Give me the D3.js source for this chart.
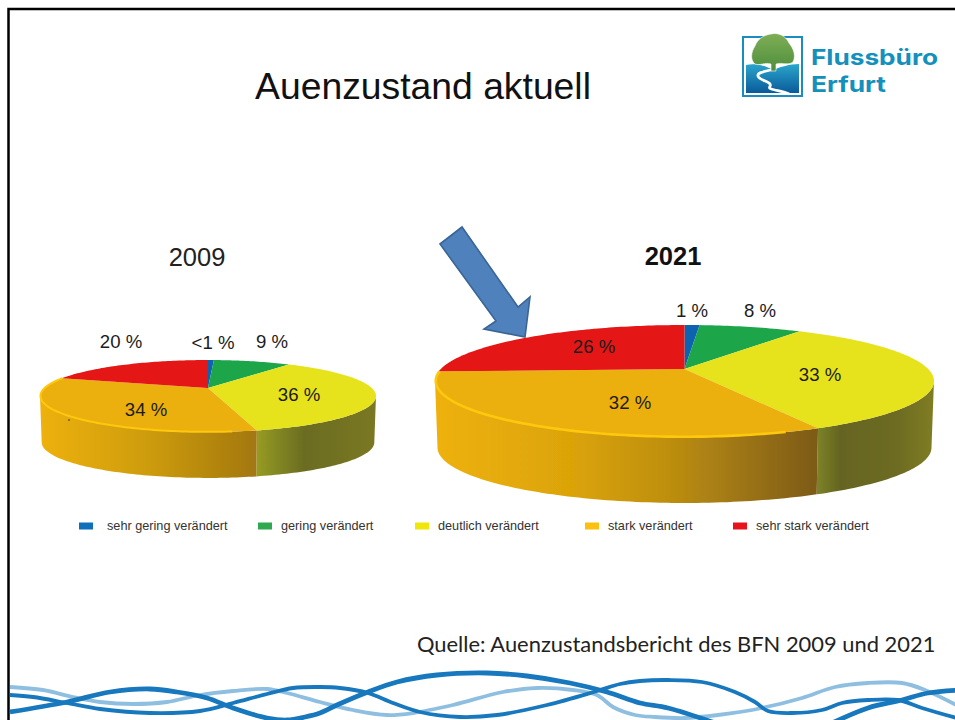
<!DOCTYPE html>
<html>
<head>
<meta charset="utf-8">
<title>Auenzustand aktuell</title>
<script src="https://cdn.jsdelivr.net/npm/d3@7"></script>
<style>
    html, body { margin: 0; padding: 0; background: #fff; overflow: hidden; }
    svg { display: block; font-family: "Liberation Sans", Arial, sans-serif; }
</style>
</head>
<body>
<div class="canvas"></div>
<script>
// chart values (slice edges give a bit more than the rounded labels)
const categories = ['sehr gering verändert', 'gering verändert', 'deutlich verändert', 'stark verändert', 'sehr stark verändert'];
const values2009 = [0.7, 9.2, 36.3, 33.7, 20];
const values2021 = [1.2, 8.2, 33.3, 31.6, 25.7];
const labels2009 = ['<1 %', '9 %', '36 %', '34 %', '20 %'];
const labels2021 = ['1 %', '8 %', '33 %', '32 %', '26 %'];

const topColors = ['#0a64b0', '#1ea64a', '#e6e21e', '#ebb00c', '#e41212'];
const legendColors = ['#0f6fb8', '#2fa84f', '#f0e60a', '#fcc00e', '#e8141c'];
const legendX = [79, 258, 415, 585, 733];
const legendTextX = [107, 281, 438, 608, 756];

// river lines at the bottom of the slide
const waveA = [[10,712],[67,702],[110,692],[150,689],[177,692],[207,698],[233,708],[267,718],[287,720],[305,717],[320,713],[337,705],[368,692],[397,682],[437,675],[487,673],[527,676],[570,683],[607,692],[640,703],[668,708],[718,724]];
const waveB = [[10,695],[33,697],[67,703],[100,709],[150,713],[200,711],[233,703],[267,694],[293,688],[320,687],[340,688],[368,693],[393,703],[420,712],[460,717],[497,715],[547,705],[597,691],[620,684],[640,681],[668,680],[702,682],[735,692],[755,702],[768,711],[792,713],[822,710],[842,703],[868,700],[898,700],[922,708],[960,719]];
const waveC = [[830,724],[868,708],[902,700],[928,693],[960,690]];
const waveD = [[10,687],[43,690],[73,697],[100,702],[133,704],[167,702],[200,695],[233,691],[267,689],[287,693],[320,702],[353,710],[387,715],[413,713],[453,705],[503,692],[537,688],[573,690],[597,695],[613,707],[635,715],[655,717],[685,718],[718,715],[762,708],[802,698],[835,687],[868,683],[902,683],[925,690],[960,707]];
const arrowShape = [[440,244],[462,227],[518,307],[530,297],[525,337],[484,329],[496,321]];

const width = 955;
const height = 720;

const svg = d3.select('.canvas')
    .append('svg')
    .attr('width', width)
    .attr('height', height);

const defs = svg.append('defs');

// horizontal gradient helper for the pie walls and the logo
const addGradient = (id, stops, vertical) => {
    const g = defs.append('linearGradient')
        .attr('id', id)
        .attr('x1', 0).attr('y1', 0)
        .attr('x2', vertical ? 0 : 1).attr('y2', vertical ? 1 : 0);
    stops.forEach(s => g.append('stop').attr('offset', s[0]).attr('stop-color', s[1]));
};

addGradient('orange2009', [[0, '#eeb10c'], [0.5, '#cd9c0a'], [1, '#a37712']]);
addGradient('yellow2009', [[0, '#969c20'], [0.4, '#6b6c22'], [1, '#7a7820']]);
addGradient('orange2021', [[0, '#eeb10c'], [0.35, '#dca406'], [0.6, '#bf9010'], [1, '#7c5a18']]);
addGradient('yellow2021', [[0, '#7c8428'], [0.2, '#656420'], [0.7, '#6e6c24'], [1, '#7f7d22']]);
addGradient('treeGreen', [[0, '#7fae56'], [1, '#4e8e3c']], true);
addGradient('riverBlue', [[0, '#2aa6cc'], [1, '#0a5a9a']], true);

const soft = defs.append('filter').attr('id', 'soft');
soft.append('feGaussianBlur').attr('stdDeviation', 0.45);

// slide frame, only top and left show
svg.append('path')
    .attr('d', 'M8.5,720V9H955')
    .attr('fill', 'none')
    .attr('stroke', '#000')
    .attr('stroke-width', 2.5);

svg.append('text')
    .attr('x', 423).attr('y', 99)
    .attr('text-anchor', 'middle')
    .attr('font-size', 37.3)
    .attr('fill', '#111')
    .text('Auenzustand aktuell');

const pie = d3.pie().sort(null).value(d => d);
const line = d3.line();

// perspective view of a flat disc: k is the tilt, apex is where the slices meet
const ringPoint = (p, scale, drop) => a => {
    const u = Math.sin(a), v = Math.cos(a);
    const w = 1 + p.k * v;
    return [p.cx + p.r * scale * u / w, p.cy + drop - p.ry * scale * v / w];
};

const arcAngles = (a0, a1) => {
    const n = Math.max(2, Math.ceil((a1 - a0) / 0.02));
    return d3.range(n + 1).map(i => a0 + (a1 - a0) * i / n);
};

const drawPie = (p, values, labels, spots) => {
    const g = svg.append('g').attr('filter', 'url(#soft)');
    const slices = pie(values);
    const rim = ringPoint(p, 1, 0);
    const base = ringPoint(p, 0.99, p.depth);

    // only the rim between the two side extremes of the disc has a visible wall
    const frontStart = Math.acos(-p.k);
    const frontEnd = 2 * Math.PI - frontStart;

    slices.filter(d => d.index === 2 || d.index === 3).forEach(d => {
        const angles = arcAngles(Math.max(d.startAngle, frontStart), Math.min(d.endAngle, frontEnd));
        g.append('path')
            .attr('d', line(angles.map(rim).concat(angles.slice().reverse().map(base))) + 'Z')
            .attr('fill', `url(#${d.index === 2 ? 'yellow' : 'orange'}${p.year})`);
    });

    g.selectAll('path.slice')
        .data(slices)
        .enter()
        .append('path')
        .attr('class', 'slice')
        .attr('d', d => line([[p.cx, p.cy]].concat(arcAngles(d.startAngle, d.endAngle).map(rim))) + 'Z')
        .attr('fill', d => topColors[d.index]);

    // bright lip along the front edge
    const orange = slices[3];
    g.append('path')
        .attr('d', line(arcAngles(orange.startAngle + 0.12, orange.endAngle).reverse().map(ringPoint(p, 0.997, 0))))
        .attr('fill', 'none')
        .attr('stroke', '#fdc80c')
        .attr('stroke-width', p.year === 2021 ? 2.6 : 2);

    svg.append('g').selectAll('text')
        .data(labels)
        .enter()
        .append('text')
        .attr('x', (d, i) => spots[i][0])
        .attr('y', (d, i) => spots[i][1])
        .attr('text-anchor', 'middle')
        .attr('font-size', 18.6)
        .attr('fill', '#1c1c1c')
        .text(d => d);
};

drawPie({year: 2009, cx: 208, cy: 388, r: 163.8, ry: 34.2, k: 0.222, depth: 46.4}, values2009, labels2009,
    [[213, 349], [272, 348], [299, 401], [146, 416], [121, 348]]);
drawPie({year: 2021, cx: 684.5, cy: 369, r: 243.7, ry: 53.4, k: 0.214, depth: 66.7}, values2021, labels2021,
    [[692, 317], [760, 317], [820, 381], [630, 409], [594, 353]]);

// tiny speck on the 2009 pie
svg.append('circle').attr('cx', 69).attr('cy', 420).attr('r', 0.8).attr('fill', '#222');

svg.append('text')
    .attr('x', 197).attr('y', 266)
    .attr('text-anchor', 'middle')
    .attr('font-size', 25.5)
    .attr('fill', '#222')
    .text('2009');

svg.append('text')
    .attr('x', 673).attr('y', 265)
    .attr('text-anchor', 'middle')
    .attr('font-size', 25.5)
    .attr('font-weight', 'bold')
    .attr('fill', '#111')
    .text('2021');

svg.append('path')
    .attr('d', line(arrowShape) + 'Z')
    .attr('fill', '#4f81bd')
    .attr('stroke', '#3a6595')
    .attr('stroke-width', 1.6);

// legend
const legend = svg.append('g').selectAll('g')
    .data(categories)
    .enter()
    .append('g');

legend.append('rect')
    .attr('x', (d, i) => legendX[i])
    .attr('y', 522.5)
    .attr('width', 14)
    .attr('height', 7)
    .attr('fill', (d, i) => legendColors[i]);

legend.append('text')
    .attr('x', (d, i) => legendTextX[i])
    .attr('y', 530)
    .attr('font-size', 12.7)
    .attr('fill', '#333')
    .text(d => d);

svg.append('text')
    .attr('x', 417).attr('y', 652)
    .attr('font-family', 'Lato, sans-serif')
    .attr('font-size', 21.9)
    .attr('fill', '#222')
    .text('Quelle: Auenzustandsbericht des BFN 2009 und 2021');

// river lines
defs.append('clipPath').attr('id', 'slideClip')
    .append('rect').attr('x', 10).attr('y', 660).attr('width', 945).attr('height', 60);

const waves = svg.append('g').attr('clip-path', 'url(#slideClip)').attr('fill', 'none');
const waveLine = d3.line().curve(d3.curveCatmullRom);
const drawWave = (pts, color, w) => waves.append('path')
    .attr('d', waveLine(pts))
    .attr('stroke', color)
    .attr('stroke-width', w);

drawWave(waveD, '#8fbfe0', 3.8);
drawWave(waveB, '#1878be', 3.8);
drawWave(waveA, '#1878be', 4.8);
drawWave(waveC, '#1878be', 4.8);

// logo
const logo = svg.append('g');
logo.append('rect')
    .attr('x', 743).attr('y', 37)
    .attr('width', 59).attr('height', 59)
    .attr('fill', '#fff')
    .attr('stroke', '#1a8cc0')
    .attr('stroke-width', 2);
logo.append('path')
    .attr('d', 'M746,65C756,63 766,66 773,70C780,67 790,64 799,64V93H746Z')
    .attr('fill', 'url(#riverBlue)');
logo.append('path')
    .attr('d', 'M774,69C768,71 757,72 758,76C759,80 768,81 770,84C772,87 765,88 775,90C780,91 786,92 789,94')
    .attr('fill', 'none')
    .attr('stroke', '#fff')
    .attr('stroke-width', 2.8);
logo.append('path')
    .attr('d', 'M771,71L771,64C765,62 760,66 755,64C750,60 751,52 755,46C757,40 763,35 771,34C778,32 786,36 789,43C794,49 796,56 793,62C788,66 782,62 776,64L776,71Z')
    .attr('fill', 'url(#treeGreen)')
    .attr('stroke', '#fff')
    .attr('stroke-width', 0.6);

const logoText = svg.append('g')
    .attr('font-family', 'Inter, sans-serif')
    .attr('font-weight', 700)
    .attr('font-size', 22.2)
    .attr('fill', '#1390bc');
logoText.append('text').attr('x', 811).attr('y', 64.5).attr('textLength', 127).attr('lengthAdjust', 'spacingAndGlyphs').text('Flussbüro');
logoText.append('text').attr('x', 811).attr('y', 91.5).attr('textLength', 75).attr('lengthAdjust', 'spacingAndGlyphs').text('Erfurt');
</script>
</body>
</html>
